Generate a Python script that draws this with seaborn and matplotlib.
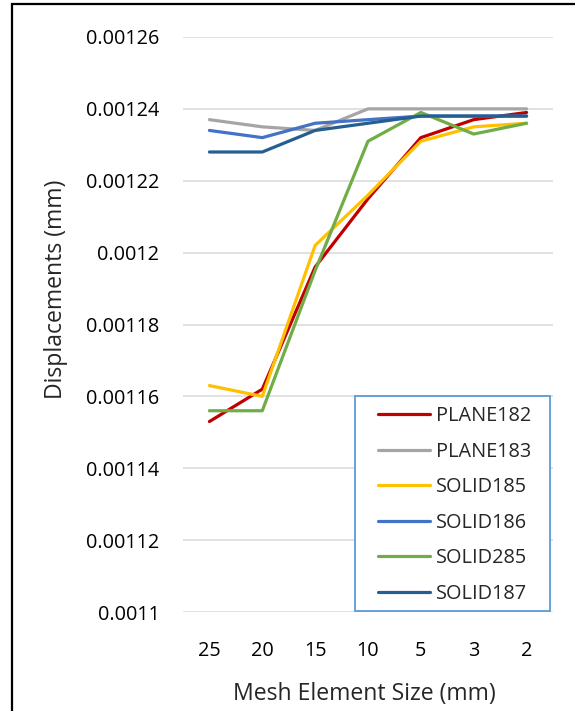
import matplotlib
matplotlib.use("Agg")
import matplotlib.pyplot as plt
from matplotlib.patches import Rectangle
import seaborn as sns
import pandas as pd

sizes = ["25", "20", "15", "10", "5", "3", "2"]
plane182 = [0.001153, 0.001162, 0.001196, 0.001215, 0.001232, 0.001237, 0.001239]
plane183 = [0.001237, 0.001235, 0.001234, 0.001240, 0.001240, 0.001240, 0.001240]
solid185 = [0.001163, 0.001160, 0.001202, 0.001216, 0.001231, 0.001235, 0.001236]
solid186 = [0.001234, 0.001232, 0.001236, 0.001237, 0.001238, 0.001238, 0.001238]
solid285 = [0.001156, 0.001156, 0.001195, 0.001231, 0.001239, 0.001233, 0.001236]
solid187 = [0.001228, 0.001228, 0.001234, 0.001236, 0.001238, 0.001238, 0.001238]

series_names = ["PLANE182", "PLANE183", "SOLID185", "SOLID186", "SOLID285", "SOLID187"]
series_vals = [plane182, plane183, solid185, solid186, solid285, solid187]
colors = ["#C00000", "#A5A5A5", "#FFC000", "#4472C4", "#70AD47", "#255E91"]
yticks = [0.0011, 0.00112, 0.00114, 0.00116, 0.00118, 0.0012, 0.00122, 0.00124, 0.00126]
ytick_labels = ["0.0011", "0.00112", "0.00114", "0.00116", "0.00118", "0.0012", "0.00122", "0.00124", "0.00126"]

rows = []
for name, vals in zip(series_names, series_vals):
    for s, v in zip(sizes, vals):
        rows.append({"size": s, "disp": v, "series": name})
df = pd.DataFrame(rows)

sns.set_theme(style="white")
plt.rcParams["font.family"] = ["Open Sans", "DejaVu Sans"]

W, H = 575, 711
fig = plt.figure(figsize=(W / 100, H / 100), dpi=100)
ax = fig.add_axes([183 / W, 1 - 612 / H, (553 - 183) / W, (612 - 37) / H])

sns.lineplot(data=df, x="size", y="disp", hue="series", hue_order=series_names,
             palette=colors, linewidth=2.3, ax=ax, sort=False)

ax.set_xlim(-0.5, 6.5)
ax.set_ylim(0.0011, 0.00126)
ax.set_yticks(yticks)
ax.set_yticklabels(ytick_labels)
ax.grid(axis="y", color="#D9D9D9", linewidth=1.1)
ax.set_axisbelow(True)
for sp in ax.spines.values():
    sp.set_visible(False)
ax.tick_params(axis="both", length=0, labelsize=14.3, colors="#000000")
ax.tick_params(axis="y", pad=17)
ax.tick_params(axis="x", pad=21)
ax.set_xlabel("")
ax.set_ylabel("")

fig.text(56 / W, 1 - 289 / H, "Displacements (mm)", rotation=90, ha="center", va="center", fontsize=16.6)
fig.text(364 / W, 1 - 694 / H, "Mesh Element Size (mm)", ha="center", va="center", fontsize=16.6)

# legend box (white, blue border)
box = Rectangle((355 / W, 1 - 611 / H), (550 - 355) / W, (611 - 396) / H,
                facecolor="white", edgecolor="#5B9BD5", linewidth=1.3, zorder=4)
ax.add_artist(box)
box.set_transform(fig.transFigure)

leg = ax.legend(loc="upper left", bbox_to_anchor=(378 / W, 1 - 406 / H), bbox_transform=fig.transFigure,
                borderaxespad=0, fontsize=14.3, handlelength=2.64, handletextpad=0.3,
                labelspacing=0.785, borderpad=0, frameon=False)
leg.set_zorder(5)
for line in leg.get_lines():
    line.set_linewidth(2.3)

fig.patches.append(Rectangle((12 / W, -0.1), 1.2, (H - 4) / H + 0.1, transform=fig.transFigure,
                             fill=False, edgecolor="black", linewidth=1.6))

fig.savefig("out.png", dpi=100, facecolor="white")
